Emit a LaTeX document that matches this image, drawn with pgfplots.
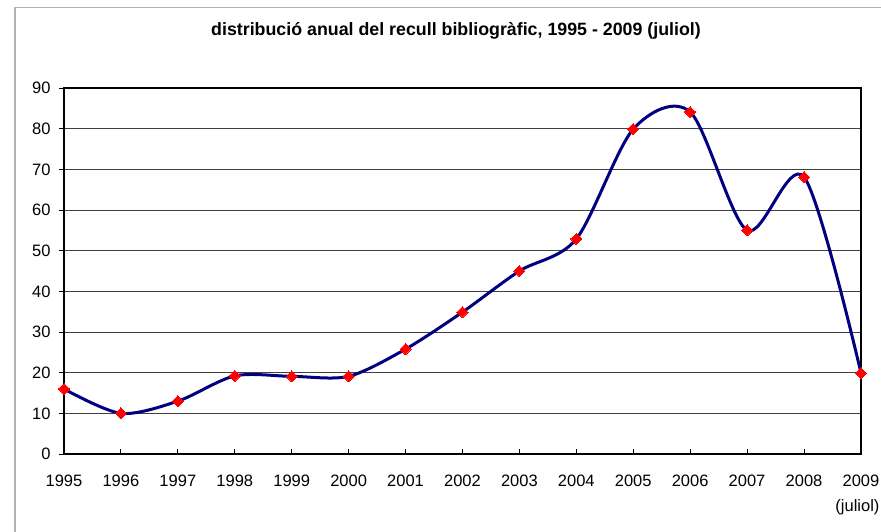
\documentclass[border=0pt]{standalone}
\usepackage{fontspec}
\setmainfont{Liberation Sans}
\usepackage{pgfplots}
\pgfplotsset{compat=1.18}
\definecolor{navyline}{RGB}{0,0,128}
\begin{document}
\begin{tikzpicture}
\useasboundingbox (0,0) rectangle (881pt,-532pt);
\fill[white] (0,0) rectangle (881pt,-532pt);
\draw[black!30, line width=1.5pt] (15pt,-540pt) -- (15pt,-7.5pt) -- (890pt,-7.5pt);
\node[font=\bfseries\fontsize{17.8}{20}\selectfont] at (456pt,-31pt) {distribució anual del recull bibliogràfic, 1995 - 2009 (juliol)};
\begin{axis}[
  at={(64pt,-454pt)}, anchor=south west,
  scale only axis, width=797pt, height=366pt,
  xmin=1995, xmax=2009, ymin=0, ymax=90,
  xtick={1995,...,2009},
  xticklabels={1995,1996,1997,1998,1999,2000,2001,2002,2003,2004,2005,2006,2007,2008,{2009\\[6pt]\makebox[0pt]{(juliol)\kern7pt}}},
  ytick={0,10,...,90},
  xticklabel style={align=center, yshift=-17pt},
  yticklabel style={xshift=-5pt},
  tick label style={font=\fontsize{16.5}{19}\selectfont},
  /pgf/number format/assume math mode=true,
  /pgf/number format/1000 sep={},
  xtick pos=lower, ytick pos=left,
  xtick align=inside, ytick align=outside,
  major tick length=5pt,
  tick style={black, line width=1pt},
  ymajorgrids,
  major grid style={black!75, line width=1pt},
  axis line style={black, line width=1.4pt},
  clip=false,
]
\addplot[navyline, line width=3pt, smooth, tension=0.5,
  mark=square*, mark size=3.9pt,
  mark options={red, draw=red, fill=red, rotate=45, line width=0pt, solid}]
  coordinates {
  (1995,16) (1996,10) (1997,13) (1998,19.2) (1999,19.1) (2000,19.1)
  (2001,25.8) (2002,34.9) (2003,45) (2004,52.9) (2005,79.9) (2006,84.1)
  (2007,55) (2008,68.1) (2009,19.9)
  };
\end{axis}
\end{tikzpicture}
\end{document}
